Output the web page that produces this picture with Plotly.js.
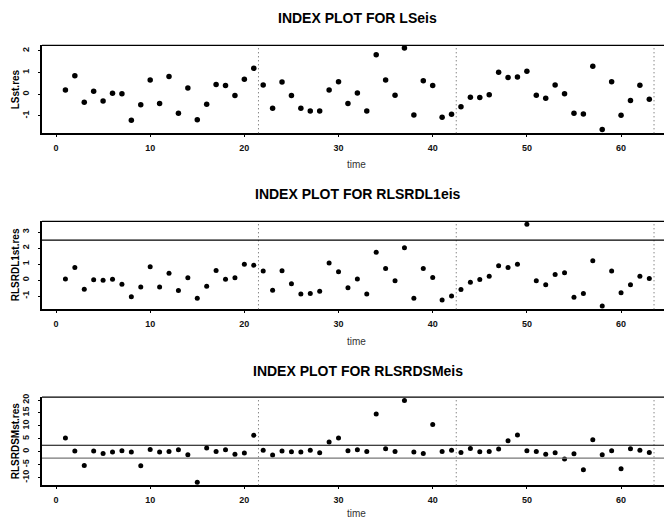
<!DOCTYPE html>
<html>
<head>
<meta charset="utf-8">
<script src="https://cdn.plot.ly/plotly-3.0.1.min.js"></script>
<style>html,body{margin:0;padding:0;background:#fff;}#chart{width:664px;height:519px;}</style>
</head>
<body>
<div id="chart"></div>
<script>
// time index (categories)
const time = [1,2,3,4,5,6,7,8,9,10,11,12,13,14,15,16,17,18,19,20,21,22,23,24,25,26,27,28,29,30,31,32,33,34,35,36,37,38,39,40,41,42,43,44,45,46,47,48,49,50,51,52,53,54,55,56,57,58,59,60,61,62,63];

// Panel 1: LSst.res
const lsRes = [0.2,0.85,-0.37,0.14,-0.31,0.05,0.03,-1.2,-0.48,0.66,-0.42,0.82,-0.88,0.29,-1.18,-0.46,0.45,0.4,-0.06,0.69,1.2,0.43,-0.65,0.57,-0.06,-0.65,-0.77,-0.77,0.2,0.58,-0.42,0.06,-0.77,1.82,0.66,-0.05,2.14,-0.95,0.63,0.4,-1.06,-0.92,-0.57,-0.14,-0.15,-0.02,1.02,0.78,0.8,1.06,-0.05,-0.18,0.43,0.02,-0.88,-0.91,1.29,-1.62,0.58,-0.97,-0.29,0.42,-0.23];

// Panel 2: RLSRDL1st.res
const rdl1Res = [0.08,0.8,-0.57,0.02,0.0,0.06,-0.25,-1.03,-0.42,0.84,-0.42,0.44,-0.65,0.15,-1.13,-0.38,0.61,0.06,0.15,0.99,0.94,0.57,-0.63,0.59,-0.23,-0.86,-0.84,-0.69,1.07,0.52,-0.48,0.08,-0.86,1.74,0.73,-0.04,2.03,-1.13,0.73,0.17,-1.24,-0.99,-0.59,-0.13,0.04,0.25,0.9,0.8,0.99,3.5,-0.04,-0.29,0.36,0.46,-1.07,-0.84,1.22,-1.61,0.57,-0.78,-0.29,0.25,0.1];

// Panel 3: RLSRDSMst.res
const rdsmRes = [5.3,0.26,-5.3,0.26,-0.65,-0.13,0.39,-0.13,-5.43,0.9,-0.13,0.13,0.78,-1.16,-11.8,1.42,0.13,0.78,-1.03,-0.52,6.34,0.52,-1.29,0.26,0.0,-0.13,0.52,-0.39,3.75,5.3,0.39,0.78,0.13,14.6,1.16,0.13,19.8,-0.13,-0.65,10.5,0.13,0.52,-0.26,1.29,0.0,0.13,1.03,4.27,6.47,0.39,0.13,-1.03,-0.39,-2.85,-0.78,-6.99,4.66,-1.16,0.39,-6.6,1.16,0.52,-0.26];

// tick labels
const xTickVals = [0, 10, 20, 30, 40, 50, 60];
const xTickText = ["0", "10", "20", "30", "40", "50", "60"];
const yTickVals1 = [-1, 0, 1, 2];
const yTickText1 = ["-1", "0", "1", "2"];
const yTickVals2 = [-1, 0, 1, 2, 3];
const yTickText2 = ["-1", "0", "1", "2", "3"];
const yTickVals3 = [-10, -5, 0, 5, 10, 15, 20];
const yTickText3 = ["-10", "-5", "0", "5", "10", "15", "20"];

// reference lines and breaks
const breaks = [21.5, 42.5, 63.5];
const panelTitles = ["INDEX PLOT FOR LSeis", "INDEX PLOT FOR RLSRDL1eis", "INDEX PLOT FOR RLSRDSMeis"];
const yTitles = ["LSst.res", "RLSRDL1st.res", "RLSRDSMst.res"];
const refLines2 = [2.5];
const refLines3 = [2.5, -2.5];

const H = 519;
const FONT = "Liberation Sans, Arial, Helvetica, sans-serif";
const pf = px => 1 - px / H;

const domains = [[pf(133.3), pf(45.3)], [pf(309.3), pf(221.3)], [pf(485.3), pf(397.2)]];
const yRanges = [[-1.80, 2.26], [-1.82, 3.68], [-13.0, 21.1]];
const yTicks = [[yTickVals1, yTickText1], [yTickVals2, yTickText2], [yTickVals3, yTickText3]];
const xRange = [-1.487, 64.56];
const titleY = [18.3, 194.3, 371];
const timeY = [164.3, 341.7, 513.5];

const series = [lsRes, rdl1Res, rdsmRes];
const msize = [5.5, 5, 5];

const traces = series.map((s, i) => ({
  x: time, y: s, type: 'scatter', mode: 'markers',
  xaxis: i === 0 ? 'x' : 'x' + (i + 1),
  yaxis: i === 0 ? 'y' : 'y' + (i + 1),
  marker: {color: '#000', size: msize[i]},
  hoverinfo: 'x+y', showlegend: false
}));

const layout = {
  width: 664, height: 519,
  margin: {l: 42, r: 0, t: 0, b: 0, pad: 0},
  paper_bgcolor: '#fff', plot_bgcolor: '#fff',
  font: {family: FONT, color: '#000'},
  showlegend: false,
  shapes: [], annotations: []
};

for (let i = 0; i < 3; i++) {
  const xa = i === 0 ? 'xaxis' : 'xaxis' + (i + 1);
  const ya = i === 0 ? 'yaxis' : 'yaxis' + (i + 1);
  const yid = i === 0 ? 'y' : 'y' + (i + 1);
  const xid = i === 0 ? 'x' : 'x' + (i + 1);
  layout[xa] = {
    domain: [0, 1], anchor: yid, range: xRange, autorange: false,
    tickmode: 'array', tickvals: xTickVals, ticktext: xTickText,
    showgrid: false, zeroline: false,
    showline: true, linecolor: '#000', linewidth: 2,
    ticks: 'outside', ticklen: 2, tickcolor: '#000', tickwidth: 1,
    ticklabelstandoff: 3,
    tickfont: {family: FONT, size: 9, color: '#111', weight: 'bold'},
    automargin: false, fixedrange: true
  };
  layout[ya] = {
    domain: domains[i], anchor: xid, range: yRanges[i], autorange: false,
    tickmode: 'array', tickvals: yTicks[i][0], ticktext: yTicks[i][1],
    showgrid: false, zeroline: false,
    showline: true, linecolor: '#000', linewidth: 2,
    ticks: 'outside', ticklen: 2, tickcolor: '#000', tickwidth: 1,
    ticklabelstandoff: 5,
    tickangle: -90,
    tickfont: {family: FONT, size: 9, color: '#111', weight: 'bold'},
    automargin: false, fixedrange: true
  };
  // top border
  layout.shapes.push({type: 'line', xref: 'paper', yref: yid + ' domain', x0: 0, x1: 1, y0: 1, y1: 1,
    line: {color: '#000', width: 1.3}});
  // dotted break lines
  breaks.forEach(b => layout.shapes.push({type: 'line', xref: xid, yref: yid + ' domain', x0: b, x1: b, y0: 0, y1: 1,
    line: {color: '#555', width: 1, dash: '1px,3px'}}));
  // titles
  layout.annotations.push({text: '<b>' + panelTitles[i] + '</b>', xref: 'paper', yref: 'paper',
    x: 0.5076, y: pf(titleY[i]), xanchor: 'center', yanchor: 'middle', showarrow: false,
    font: {family: FONT, size: 14, color: '#000'}});
  layout.annotations.push({text: 'time', xref: 'paper', yref: 'paper',
    x: 0.5064, y: pf(timeY[i]), xanchor: 'center', yanchor: 'middle', showarrow: false,
    font: {family: FONT, size: 10, color: '#333'}});
  layout.annotations.push({text: '<b>' + yTitles[i] + '</b>', xref: 'paper', yref: yid + ' domain',
    x: -0.0434, y: 0.5, xanchor: 'center', yanchor: 'middle', textangle: -90, showarrow: false,
    font: {family: FONT, size: 10, color: '#000'}});
}

refLines2.forEach(v => layout.shapes.push({type: 'line', xref: 'paper', yref: 'y2', x0: 0, x1: 1, y0: v, y1: v,
  line: {color: '#000', width: 1.2}}));
refLines3.forEach((v, k) => layout.shapes.push({type: 'line', xref: 'paper', yref: 'y3', x0: 0, x1: 1, y0: v, y1: v,
  line: {color: k === 0 ? '#000' : '#777', width: 1.2}}));

Plotly.newPlot('chart', traces, layout, {displayModeBar: false, staticPlot: true});
</script>
</body>
</html>
